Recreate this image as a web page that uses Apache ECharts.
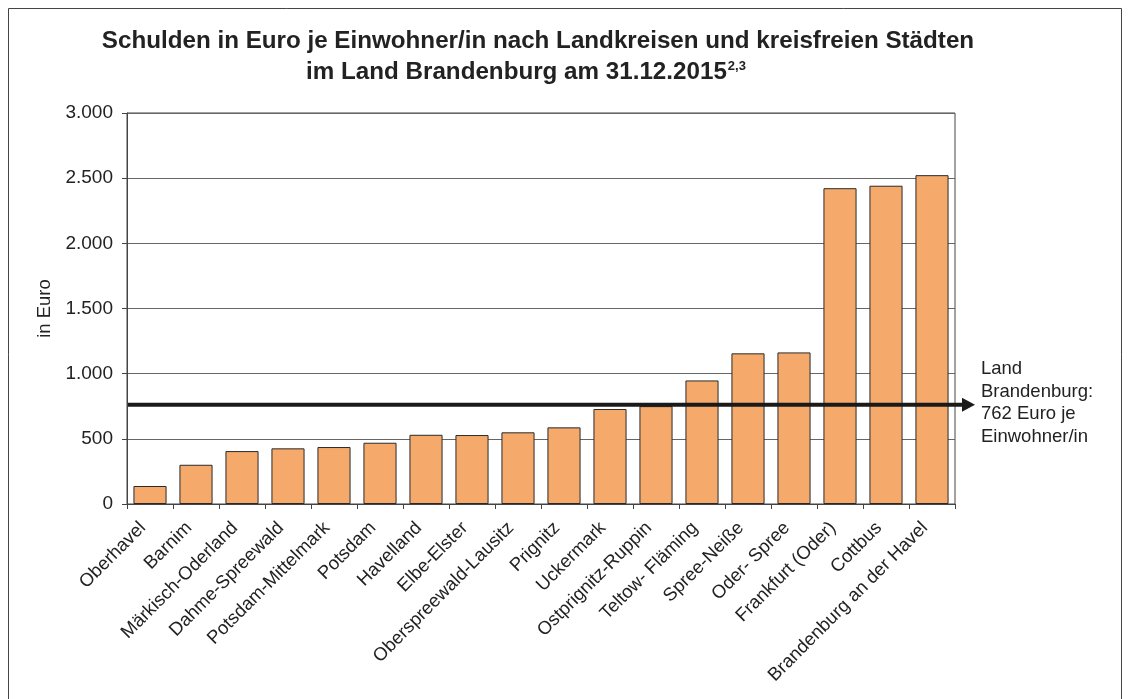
<!DOCTYPE html>
<html>
<head>
<meta charset="utf-8">
<script src="https://cdn.jsdelivr.net/npm/echarts@6/dist/echarts.min.js"></script>
<style>
  html, body { margin: 0; padding: 0; background: #fff; }
  #chart { width: 1130px; height: 699px; }
</style>
</head>
<body>
<div id="chart"></div>
<script>
// Kreise und kreisfreie Städte
const categories = [
  'Oberhavel', 'Barnim', 'Märkisch-Oderland', 'Dahme-Spreewald', 'Potsdam-Mittelmark',
  'Potsdam', 'Havelland', 'Elbe-Elster', 'Oberspreewald-Lausitz', 'Prignitz',
  'Uckermark', 'Ostprignitz-Ruppin', 'Teltow- Fläming', 'Spree-Neiße', 'Oder- Spree',
  'Frankfurt (Oder)', 'Cottbus', 'Brandenburg an der Havel'
]
// Schulden in Euro je Einwohner/in
const debts = [138, 301, 406, 427, 437, 470, 531, 529, 550, 588, 729, 751, 948, 1156, 1163, 2423, 2442, 2523]
// Landesdurchschnitt
const landAverage = 762
const yTicks = [0, 500, 1000, 1500, 2000, 2500, 3000]

const fmt = v => String(v).replace(/\B(?=(\d{3})+(?!\d))/g, '.')
const font = 'Liberation Sans, Arial, sans-serif'

const chart = echarts.init(document.getElementById('chart'))
const gridLeft = 127, gridRight = 175, gridTop = 113, gridBottom = 195
const titleStyle = { fontFamily: font, fontSize: 24.2, fontWeight: 'bold', color: '#222' }

chart.setOption({
  animation: false,
  textStyle: { fontFamily: font },
  title: [
    {
      text: 'Schulden in Euro je Einwohner/in nach Landkreisen und kreisfreien Städten',
      left: 533,
      top: 24,
      textAlign: 'center',
      textStyle: titleStyle
    },
    {
      text: '{t|im Land Brandenburg am 31.12.2015}{s|2,3}',
      left: 521,
      top: 55,
      textAlign: 'center',
      textStyle: Object.assign({}, titleStyle, {
        rich: {
          t: titleStyle,
          s: { fontFamily: font, fontSize: 13, fontWeight: 'bold', color: '#222', verticalAlign: 'top', padding: [0, 0, 12, 1] }
        }
      })
    }
  ],
  grid: { left: gridLeft, right: gridRight, top: gridTop, bottom: gridBottom, show: true, borderColor: '#444', borderWidth: 1 },
  xAxis: {
    type: 'category',
    data: categories,
    axisLine: { lineStyle: { color: '#444', width: 1 } },
    axisTick: { show: true, length: 5, lineStyle: { color: '#444' } },
    axisLabel: { rotate: 45, interval: 0, fontSize: 18.5, color: '#222', margin: 14, padding: [0, 10, 0, 0] }
  },
  yAxis: {
    type: 'value',
    min: yTicks[0],
    max: yTicks[yTicks.length - 1],
    interval: 500,
    name: 'in Euro',
    nameLocation: 'middle',
    nameGap: 42,
    nameTextStyle: { fontSize: 18.5, color: '#222' },
    axisLine: { show: true, lineStyle: { color: '#444', width: 1 } },
    axisTick: { show: true, length: 5, lineStyle: { color: '#444' } },
    axisLabel: { fontSize: 19, color: '#222', margin: 14, formatter: v => fmt(v) },
    splitLine: { lineStyle: { color: '#666', width: 1 } }
  },
  series: [{
    type: 'bar',
    data: debts,
    barCategoryGap: '28%',
    itemStyle: { color: '#F5AA6C', borderColor: '#2a2a2a', borderWidth: 1 }
  }]
})

// Linie für den Landesdurchschnitt mit Pfeil
const yPix = chart.convertToPixel({ yAxisIndex: 0 }, landAverage)
const xEnd = 1130 - gridRight + 17
chart.setOption({
  graphic: [
    {
      type: 'rect',
      shape: { x: 8.5, y: 8.5, width: 1113, height: 700 },
      style: { fill: 'none', stroke: '#444', lineWidth: 1 },
      silent: true
    },
    {
      type: 'line',
      shape: { x1: gridLeft + 1, y1: yPix, x2: xEnd - 8, y2: yPix },
      style: { stroke: '#1a1a1a', lineWidth: 4 },
      z: 10
    },
    {
      type: 'polygon',
      shape: { points: [[xEnd - 10, yPix - 7], [xEnd + 3, yPix], [xEnd - 10, yPix + 7]] },
      style: { fill: '#1a1a1a' },
      z: 10
    },
    {
      type: 'text',
      left: 981,
      top: yPix - 47,
      style: {
        text: 'Land\nBrandenburg:\n' + landAverage + ' Euro je\nEinwohner/in',
        fontFamily: font,
        fontSize: 18.5,
        lineHeight: 22.5,
        fill: '#222'
      }
    }
  ]
})
</script>
</body>
</html>
